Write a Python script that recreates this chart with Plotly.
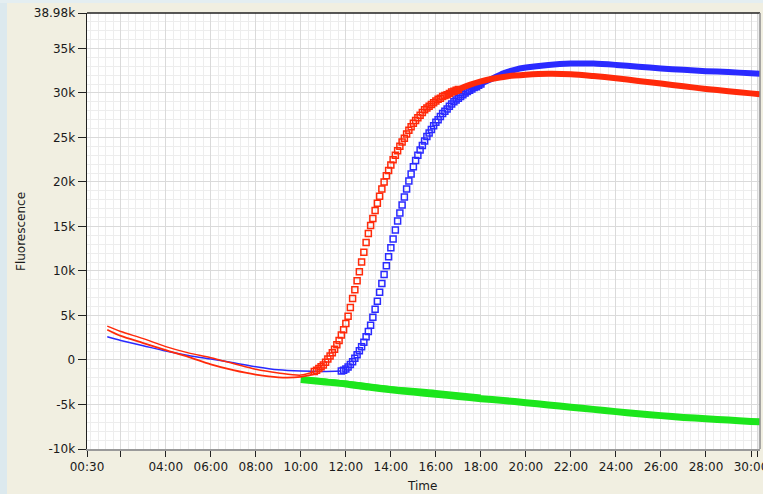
import plotly.graph_objects as go

# ---------------- data (fluorescence in thousands, time in hours) ----------------
red_rise_t = [10.6, 10.7, 10.8, 10.9, 11.0, 11.1, 11.2, 11.3, 11.4, 11.5,
              11.6, 11.7, 11.8, 11.9, 12.0, 12.1, 12.2, 12.3, 12.4, 12.5,
              12.6, 12.7, 12.8, 12.9, 13.0, 13.1, 13.2, 13.3, 13.4, 13.5,
              13.6, 13.7, 13.8, 13.9, 14.0, 14.1, 14.2, 14.3, 14.4, 14.5,
              14.6, 14.7, 14.8, 14.9, 15.0, 15.1, 15.2, 15.3, 15.4, 15.5,
              15.6, 15.7, 15.8, 15.9, 16.0, 16.1, 16.2, 16.3, 16.4, 16.5,
              16.6, 16.7, 16.8, 16.9, 17.0]
red_rise_v = [-1.3, -1.15, -0.95, -0.75, -0.55, -0.25, 0.1, 0.45, 0.8, 1.2,
              1.7, 2.2, 2.8, 3.4, 4.1, 4.9, 5.9, 6.9, 7.9, 8.9,
              9.9, 11.0, 12.1, 13.2, 14.2, 15.1, 15.9, 16.8, 17.6, 18.4,
              19.2, 20.0, 20.7, 21.3, 21.9, 22.5, 23.0, 23.5, 24.0, 24.5,
              24.9, 25.4, 25.8, 26.2, 26.6, 26.9, 27.2, 27.5, 27.8, 28.1,
              28.3, 28.5, 28.7, 28.9, 29.1, 29.3, 29.4, 29.6, 29.7, 29.8,
              29.95, 30.1, 30.2, 30.3, 30.4]

blue_rise_t = [11.8, 11.9, 12.0, 12.1, 12.2, 12.3, 12.4, 12.5, 12.6, 12.7,
               12.8, 12.9, 13.0, 13.1, 13.2, 13.3, 13.4, 13.5, 13.6, 13.7,
               13.8, 13.9, 14.0, 14.1, 14.2, 14.3, 14.4, 14.5, 14.6, 14.7,
               14.8, 14.9, 15.0, 15.1, 15.2, 15.3, 15.4, 15.5, 15.6, 15.7,
               15.8, 15.9, 16.0, 16.1, 16.2, 16.3, 16.4, 16.5, 16.6, 16.7,
               16.8, 16.9, 17.0, 17.1, 17.2, 17.3, 17.4, 17.5, 17.6, 17.7,
               17.8, 17.9, 18.0]
blue_rise_v = [-1.25, -1.15, -1.0, -0.8, -0.5, -0.2, 0.2, 0.6, 1.05, 1.5,
               2.0, 2.6, 3.2, 3.9, 4.8, 5.7, 6.6, 7.6, 8.6, 9.6,
               10.6, 11.6, 12.6, 13.6, 14.6, 15.6, 16.5, 17.4, 18.3, 19.2,
               20.1, 20.9, 21.7, 22.4, 23.0, 23.6, 24.1, 24.6, 25.1, 25.5,
               25.9, 26.3, 26.7, 27.0, 27.35, 27.7, 27.95, 28.2, 28.5, 28.75,
               29.0, 29.2, 29.4, 29.6, 29.8, 30.0, 30.15, 30.3, 30.45, 30.6,
               30.7, 30.85, 31.0]

red_plateau_t = [16.5, 17.0, 17.5, 18.0, 18.5, 19.0, 19.5, 20.0, 21.0, 22.0,
                 23.0, 24.0, 25.0, 26.0, 27.0, 28.0, 29.0, 30.0, 30.4]
red_plateau_v = [29.8, 30.4, 30.9, 31.3, 31.6, 31.8, 31.95, 32.05, 32.15, 32.1,
                 31.9, 31.65, 31.35, 31.05, 30.75, 30.45, 30.2, 29.95, 29.85]

blue_plateau_t = [17.5, 18.0, 18.5, 19.0, 19.5, 20.0, 21.0, 22.0, 23.0, 24.0,
                  25.0, 26.0, 27.0, 28.0, 29.0, 30.0, 30.4]
blue_plateau_v = [30.3, 31.0, 31.6, 32.2, 32.6, 32.85, 33.15, 33.3, 33.3, 33.15,
                  32.95, 32.75, 32.6, 32.45, 32.35, 32.2, 32.15]

red_base_a_t = [1.4, 2.0, 3.0, 4.0, 5.0, 6.0, 7.0, 8.0, 9.0, 10.0, 10.6]
red_base_a_v = [3.8, 3.2, 2.4, 1.5, 0.8, 0.25, -0.4, -1.05, -1.45, -1.7, -1.3]
red_base_b_t = [1.4, 2.0, 3.0, 4.0, 5.0, 6.0, 7.0, 8.0, 9.0, 10.0, 10.6]
red_base_b_v = [3.4, 2.7, 1.9, 1.1, 0.35, -0.5, -1.15, -1.65, -1.95, -1.9, -1.6]
blue_base_t = [1.4, 2.0, 3.0, 4.0, 5.0, 6.0, 7.0, 8.0, 9.0, 10.0, 11.0, 11.8]
blue_base_v = [2.6, 2.2, 1.6, 1.0, 0.5, 0.1, -0.3, -0.75, -1.1, -1.25, -1.3, -1.25]

green_t = [10.0, 11.0, 12.0, 13.0, 14.0, 15.0, 16.0, 17.0, 18.0, 19.0, 20.0,
           21.0, 22.0, 23.0, 24.0, 25.0, 26.0, 27.0, 28.0, 29.0, 30.0, 30.4]
green_v = [-2.2, -2.45, -2.7, -3.05, -3.35, -3.6, -3.85, -4.1, -4.35, -4.55, -4.8,
           -5.05, -5.3, -5.55, -5.8, -6.05, -6.25, -6.45, -6.6, -6.75, -6.9, -6.95]
green_b_t = [10.0, 12.0, 14.0, 16.0, 18.0]
green_b_v = [-1.95, -2.4, -3.0, -3.45, -3.95]

x_tickvals = [0.5, 2, 4, 6, 8, 10, 12, 14, 16, 18, 20, 22, 24, 26, 28, 30, 30.3]
x_ticktext = ['00:30', '', '04:00', '06:00', '08:00', '10:00', '12:00', '14:00',
              '16:00', '18:00', '20:00', '22:00', '24:00', '26:00', '28:00', '30:00', '']
y_tickvals = [-10, -5, 0, 5, 10, 15, 20, 25, 30, 35, 38.98]
y_ticktext = ['-10k', '-5k', '0', '5k', '10k', '15k', '20k', '25k', '30k', '35k', '38.98k']

RED = '#FF2A0A'
BLUE = '#2A2AFF'
GREEN = '#1CE61C'

# ---------------- figure ----------------
W, H = 763, 494
ML, MR, MT, MB = 87, 3, 13, 45
PW, PH = W - ML - MR, H - MT - MB

fig = go.Figure()


def add_line(t, v, color, width):
    fig.add_trace(go.Scatter(x=t, y=v, mode='lines',
                             line=dict(color=color, width=width, shape='spline', smoothing=0.8),
                             hoverinfo='skip', showlegend=False))


def add_marks(t, v, color):
    fig.add_trace(go.Scatter(x=t, y=v, mode='markers',
                             marker=dict(symbol='square-open', size=6, color=color,
                                         line=dict(width=1.5, color=color)),
                             hoverinfo='skip', showlegend=False))


add_line(green_t, green_v, GREEN, 7)
add_line(green_b_t, green_b_v, GREEN, 1.5)
add_line(blue_base_t, blue_base_v, BLUE, 1.5)
add_line(red_base_b_t, red_base_b_v, RED, 1.8)
add_line(red_base_a_t, red_base_a_v, RED, 1.5)
add_line(blue_plateau_t, blue_plateau_v, BLUE, 6)
add_marks(blue_rise_t, blue_rise_v, BLUE)
add_line(red_plateau_t, red_plateau_v, RED, 6)
add_marks(red_rise_t, red_rise_v, RED)


def px_x(p):
    return (p - ML) / PW


def px_y(p):
    return (H - MB - p) / PH


shapes = [
    # screen background strips left/top
    dict(type='rect', xref='paper', yref='paper', x0=px_x(0), x1=px_x(7), y0=px_y(H), y1=px_y(0),
         fillcolor='#DCE9EE', line=dict(width=0), layer='below'),
    dict(type='rect', xref='paper', yref='paper', x0=px_x(0), x1=px_x(W), y0=px_y(3), y1=px_y(0),
         fillcolor='#E4EEF1', line=dict(width=0), layer='below'),
    # frame top (dark) and right (grey)
    dict(type='line', xref='paper', yref='paper', x0=0, x1=1, y0=1, y1=1,
         line=dict(color='#202020', width=1.5)),
    dict(type='line', xref='paper', yref='paper', x0=1, x1=1, y0=0, y1=1,
         line=dict(color='#8C8C8C', width=1.5)),
]

font = dict(family='DejaVu Sans', size=12, color='#1A1A1A')

annotations = [
    dict(text='Time', xref='paper', yref='paper', x=px_x(422), y=px_y(486),
         xanchor='center', yanchor='middle', showarrow=False, font=font),
    dict(text='Fluorescence', xref='paper', yref='paper', x=px_x(21), y=px_y(232),
         xanchor='center', yanchor='middle', showarrow=False, font=font, textangle=-90),
]

fig.update_layout(
    width=W, height=H,
    margin=dict(l=ML, r=MR, t=MT, b=MB, pad=0, autoexpand=False),
    paper_bgcolor='#F1EFE1',
    plot_bgcolor='#FFFFFF',
    font=font,
    showlegend=False,
    shapes=shapes,
    annotations=annotations,
    xaxis=dict(
        range=[0.5, 30.4], tickmode='array', tickvals=x_tickvals, ticktext=x_ticktext,
        ticks='outside', ticklen=6, tickwidth=1, tickcolor='#222222',
        showline=True, linecolor='#9A9A9A', linewidth=1.5,
        showgrid=True, gridcolor='#DADADA', gridwidth=1, zeroline=False,
        minor=dict(tickmode='linear', tick0=0, dtick=1 / 3, showgrid=True,
                   gridcolor='#EDEDED', gridwidth=1, ticks=''),
        ticklabeloverflow='allow', tickfont=font, automargin=False,
    ),
    yaxis=dict(
        range=[-10, 38.98], tickmode='array', tickvals=y_tickvals, ticktext=y_ticktext,
        ticks='outside', ticklen=8, tickwidth=1, tickcolor='#222222',
        showline=True, linecolor='#202020', linewidth=1.5,
        showgrid=True, gridcolor='#DADADA', gridwidth=1, zeroline=False,
        minor=dict(tickmode='linear', tick0=0, dtick=1, showgrid=True,
                   gridcolor='#EDEDED', gridwidth=1, ticks=''),
        tickfont=font, automargin=False,
    ),
)

fig.write_html('out.html', config={'displayModeBar': False, 'staticPlot': True},
               post_script="document.body.style.margin='0';document.body.style.overflow='hidden';")
